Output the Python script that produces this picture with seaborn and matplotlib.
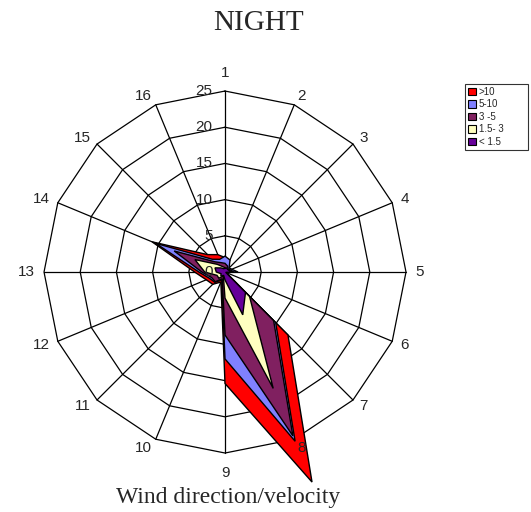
import numpy as np
import matplotlib
matplotlib.use("Agg")
import matplotlib.pyplot as plt
import matplotlib.transforms as mtransforms
from matplotlib.patches import Patch
import seaborn as sns

# Wind direction sectors (1 = north, clockwise, 16 sectors)
directions = [str(i) for i in range(1, 17)]

# Wind velocity classes, cumulative frequency per direction
speed_classes = [">10", "5-10", "3 -5", "1.5- 3", "< 1.5"]
gt10 = [2.0, 1.4, 0.6, 0.5, 0.6, 0.1, 12.3, 31.4, 15.4, 1.5, 2.4, 2.8, 4.2, 10.9, 3.4, 2.6]
v5_10 = [2.2, 1.8, 0.8, 1.0, 1.8, 0.1, 9.9, 25.3, 12.0, 1.2, 2.0, 2.3, 3.6, 10.4, 2.5, 1.9]
v3_5 = [1.2, 0.9, 0.6, 0.8, 1.2, 0.1, 9.5, 24.5, 8.7, 1.0, 1.9, 2.0, 3.2, 7.6, 2.0, 1.4]
v15_3 = [0.6, 0.5, 0.4, 0.5, 0.8, 0.1, 4.8, 17.4, 3.6, 0.6, 1.2, 1.2, 2.8, 4.5, 1.5, 0.8]
lt15 = [0.5, 0.6, 0.5, 0.6, 1.0, 0.1, 4.0, 6.4, 1.1, 0.5, 0.8, 0.6, 1.2, 1.5, 0.8, 0.5]

radial_ticks = [0, 5, 10, 15, 20, 25]

sns.set_theme(style="white")
plt.rcParams["font.family"] = ["Liberation Sans", "DejaVu Sans"]

palette = sns.color_palette(["#FF0000", "#8080FF", "#802060", "#FFFFC0", "#660099"])
series = [gt10, v5_10, v3_5, v15_3, lt15]

fig = plt.figure(figsize=(5.31, 5.12), dpi=100)
ax = fig.add_axes([0.0829, 0.1152, 0.6817, 0.707], projection="polar")
ax.set_theta_zero_location("N")
ax.set_theta_direction(-1)
ax.set_ylim(0, 25)
ax.grid(False)
ax.spines["polar"].set_visible(False)
ax.set_xticks([])
ax.set_yticks([])
ax.patch.set_alpha(0)

n = len(directions)
theta = np.arange(n) * 2 * np.pi / n
theta_closed = np.append(theta, theta[0])

# spider-web grid: polygon rings and spokes
for r in radial_ticks[1:]:
    ax.plot(theta_closed, [r] * (n + 1), color="black", lw=0.9, zorder=1, clip_on=False)
for t in theta:
    ax.plot([t, t], [0, 25], color="black", lw=0.9, zorder=1, clip_on=False)

# stacked filled areas, largest class drawn first
for vals, col in zip(series, palette):
    v = np.append(vals, vals[0])
    ax.fill(theta_closed, v, facecolor=col, edgecolor="black", lw=1.0,
            zorder=2, clip_on=False)

# direction labels just outside the outer ring
for t, lab in zip(theta, directions):
    s, c = np.sin(t), np.cos(t)
    ha = "left" if s > 0.2 else ("right" if s < -0.2 else "center")
    if c > 0.95:
        va, gap = "bottom", 8
    elif c < -0.95:
        va, gap = "top", 9
    else:
        va, gap = "center", 6.5
    tr = mtransforms.offset_copy(ax.transData, fig=fig, x=gap * s, y=gap * c,
                                 units="points")
    ax.text(t, 25, lab, transform=tr, ha=ha, va=va, fontsize=11, clip_on=False)

# radial value labels left of the north spoke
off = mtransforms.offset_copy(ax.transData, fig=fig, x=-9, y=0, units="points")
for r in radial_ticks:
    ax.text(0, r, str(r), transform=off, ha="right", va="center", fontsize=11,
            zorder=3)

fig.text(258 / 531, 1 - 23 / 512, "NIGHT", ha="center", va="center",
         fontsize=21, family="Liberation Serif")
fig.text(228 / 531, 1 - 497 / 512, "Wind direction/velocity", ha="center",
         va="center", fontsize=17, family="Liberation Serif")

handles = [Patch(facecolor=c, edgecolor="black", lw=0.8) for c in palette]
leg = fig.legend(handles, speed_classes, loc="upper left",
                 bbox_to_anchor=(465 / 531, 1 - 84 / 512, 63 / 531, 0.0),
                 mode="expand", fontsize=7,
                 frameon=True, fancybox=False, handlelength=0.8,
                 handleheight=0.8, handletextpad=0.3, borderpad=0.3,
                 labelspacing=0.25, borderaxespad=0)
leg.get_frame().set_edgecolor("black")
leg.get_frame().set_linewidth(0.8)

fig.savefig("out.png", dpi=100)
